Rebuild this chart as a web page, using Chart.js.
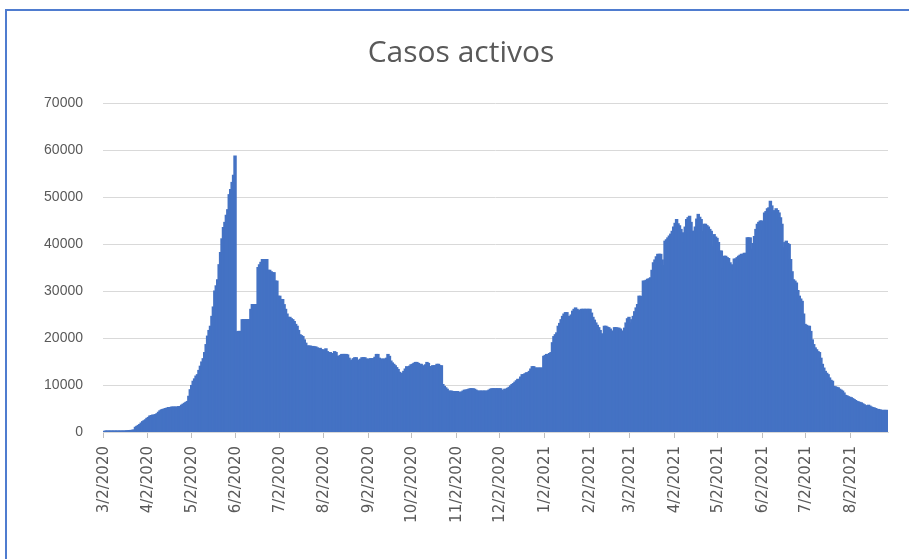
<!DOCTYPE html>
<html lang="es">
<head>
<meta charset="utf-8">
<title>Casos activos</title>
<script src="https://cdn.jsdelivr.net/npm/chart.js@4.4.1/dist/chart.umd.min.js"></script>
<style>
  html, body { margin: 0; padding: 0; background: #fff; }
  #wrap { position: relative; width: 909px; height: 559px; overflow: hidden; background: #fff; }
  #marco { position: absolute; left: 5px; top: 9px; width: 1000px; height: 1000px;
           border-top: 2px solid #4f7ccf; border-left: 2px solid #4f7ccf; pointer-events: none; }
</style>
</head>
<body>
<div id="wrap">
  <canvas id="activosChart"></canvas>
  <div id="marco"></div>
</div>
<script>
// primer día de la serie (3/2/2020), una barra por día
const inicio = [2020, 2, 2];

// casos activos diarios, una línea por mes (del día 2 al día 1 del mes siguiente)
const casosActivos = [
  0, 1, 1, 3, 5, 7, 10, 13, 17, 23, 33, 43, 61, 74, 95, 120, 150, 180, 210, 240, 280, 330, 900, 1100, 1300, 1500, 1800, 2100, 2300, 2500, 2800,
  3000, 3300, 3400, 3500, 3500, 3600, 3800, 4100, 4400, 4600, 4700, 4800, 4900, 5000, 5100, 5100, 5200, 5200, 5200, 5200, 5200, 5300, 5300, 5600, 5800, 6000, 6200, 6400, 7500, 8900,
  9800, 10700, 11200, 11800, 12100, 13000, 13900, 14800, 15500, 16800, 18500, 20300, 21500, 22400, 24500, 26500, 29900, 31000, 32300, 35500, 38100, 41000, 43400, 44500, 46000, 47200, 50400, 51500, 53000, 54500, 58600,
  21100, 21300, 21300, 21300, 23800, 23800, 23800, 23800, 23800, 23800, 26000, 27000, 27000, 27000, 27000, 34900, 35500, 36000, 36600, 36600, 36600, 36600, 34300, 34300, 34000, 33800, 33800, 32000, 32000, 28800,
  28800, 28100, 28100, 27000, 26000, 25000, 24300, 24300, 24000, 23800, 23400, 22800, 22400, 21500, 20600, 20400, 20200, 19500, 18800, 18200, 18200, 18200, 18100, 18100, 18000, 18000, 17800, 17600, 17700, 17400, 17400,
  17200, 17600, 17000, 16800, 16800, 16600, 16500, 17000, 16800, 16000, 16000, 16200, 16400, 16400, 16400, 16400, 16300, 15600, 15000, 15200, 15500, 15700, 15700, 15000, 15200, 15400, 15700, 15700, 15700, 15400, 15400,
  15400, 15500, 15500, 15500, 15800, 16400, 16400, 15600, 15400, 15400, 15400, 15400, 15600, 16400, 16000, 15000, 14600, 14300, 14000, 13600, 13200, 12600, 12100, 12400, 12800, 13300, 13800, 13600, 13900, 14200,
  14300, 14500, 14700, 14700, 14500, 14300, 14300, 14000, 13800, 14200, 14700, 14500, 13800, 13800, 14000, 14000, 14000, 14300, 14300, 14000, 14000, 10000, 9600, 9300, 9000, 8600, 8600, 8600, 8500, 8500, 8500,
  8500, 8400, 8300, 8400, 8600, 8800, 8800, 8900, 9000, 9100, 9100, 9100, 9000, 8800, 8600, 8600, 8600, 8600, 8600, 8600, 8600, 8600, 8800, 9000, 9100, 9100, 9100, 9100, 9100, 9100,
  9100, 8800, 8600, 9000, 9000, 9200, 9400, 9700, 10000, 10200, 10500, 10800, 11100, 11100, 11600, 12100, 12100, 12300, 12500, 12500, 12800, 13300, 13800, 13800, 13500, 13500, 13500, 13500, 13500, 13500, 16000,
  16200, 16400, 16400, 16600, 16800, 18900, 20200, 20600, 21000, 22400, 23000, 23800, 24500, 25000, 25300, 25300, 24500, 23800, 24800, 25600, 26000, 26300, 26000, 25600, 25800, 26000, 26000, 26000, 26000, 26000, 26000,
  26000, 25200, 24300, 23700, 23100, 22600, 22100, 21500, 20800, 20200, 22400, 22400, 22200, 22100, 21800, 21400, 21000, 22100, 22100, 22000, 22000, 21800, 21400, 21000, 22000, 23100, 24000, 24300,
  23100, 23800, 24500, 25500, 26300, 27000, 28800, 28800, 28100, 32000, 32000, 32200, 32400, 32500, 32700, 34300, 35900, 36500, 37200, 37700, 37700, 37700, 36500, 35300, 40500, 40800, 41200, 41600, 42000, 42600, 43500,
  44300, 45100, 44200, 43800, 43000, 42300, 40200, 43500, 45100, 45500, 45800, 44500, 42600, 42600, 43500, 45200, 46200, 45600, 45100, 42600, 44100, 44100, 43800, 43500, 43000, 42600, 39400, 41900, 41400, 41100,
  40200, 38400, 38400, 34500, 37300, 37300, 37000, 36800, 35900, 35500, 34100, 36700, 36700, 37000, 37300, 37500, 37700, 37700, 37900, 37900, 41200, 41200, 41200, 38800, 40000, 41500, 43000, 44100, 44500, 44800, 44800,
  42800, 46500, 46800, 47400, 47600, 49000, 48000, 46700, 47000, 47400, 47000, 46500, 45500, 44100, 39100, 40200, 40500, 40000, 39800, 36600, 34000, 32300, 32000, 31600, 30000, 28800, 28200, 27700, 25000, 22800,
  22600, 22400, 22400, 21300, 19500, 18500, 17800, 17400, 17000, 16800, 15600, 14300, 13500, 12800, 12400, 12100, 11400, 10900, 10700, 9600, 9500, 9400, 9300, 9000, 8800, 8600, 8200, 7700, 7600, 7400, 7300,
  7200, 7000, 6800, 6600, 6400, 6300, 6200, 6100, 5900, 5700, 5400, 5500, 5600, 5400, 5200, 5100, 5000, 4900, 4700, 4700, 4600, 4500, 4500, 4500, 4500, 4500
];

// etiquetas visibles del eje x
const etiquetasMes = ['3/2/2020', '4/2/2020', '5/2/2020', '6/2/2020', '7/2/2020', '8/2/2020', '9/2/2020',
  '10/2/2020', '11/2/2020', '12/2/2020', '1/2/2021', '2/2/2021', '3/2/2021', '4/2/2021', '5/2/2021',
  '6/2/2021', '7/2/2021', '8/2/2021'];

const ticksY = [0, 10000, 20000, 30000, 40000, 50000, 60000, 70000];

document.addEventListener("DOMContentLoaded", function () {
  // fechas m/d/aaaa para cada barra
  const fechas = casosActivos.map(function (v, i) {
    const d = new Date(Date.UTC(inicio[0], inicio[1], inicio[2] + i));
    return (d.getUTCMonth() + 1) + '/' + d.getUTCDate() + '/' + d.getUTCFullYear();
  });

  const gris = '#595959';
  const ctx = document.getElementById('activosChart').getContext('2d');
  const chart = new Chart(ctx, {
    type: 'bar',
    data: {
      labels: fechas,
      datasets: [{
        label: 'Casos activos',
        data: casosActivos,
        backgroundColor: '#4472c4',
        borderWidth: 0,
        inflateAmount: 1,
        barPercentage: 1,
        categoryPercentage: 1
      }]
    },
    options: {
      responsive: true,
      maintainAspectRatio: false,
      animation: false,
      layout: {
        padding: { left: 34, right: 21, top: 0, bottom: 0 }
      },
      scales: {
        x: {
          offset: true,
          grid: {
            offset: true,
            drawOnChartArea: false,
            drawTicks: true,
            tickLength: 6,
            color: function (c) { return c.tick && c.tick.label ? '#bfbfbf' : 'rgba(0,0,0,0)'; }
          },
          border: { display: true, color: '#d9d9d9', width: 1 },
          ticks: {
            autoSkip: false,
            minRotation: 90,
            maxRotation: 90,
            padding: 8,
            color: gris,
            font: { family: 'DejaVu Sans', size: 15 },
            callback: function (value) {
              const l = this.getLabelForValue(value);
              return etiquetasMes.includes(l) ? l : '';
            }
          },
          afterFit: function (s) {
            s.height = 127;
            s.paddingLeft = 0;
            s.paddingRight = 0;
          }
        },
        y: {
          min: 0,
          max: 70000,
          afterBuildTicks: function (s) { s.ticks = ticksY.map(function (v) { return { value: v }; }); },
          grid: { color: '#d9d9d9', drawTicks: false },
          border: { display: false },
          ticks: {
            padding: 20,
            color: gris,
            font: { family: "'Liberation Sans'", size: 14 },
            callback: function (v) { return String(v); }
          },
          afterFit: function (s) { s.width = 69; }
        }
      },
      plugins: {
        legend: { display: false },
        tooltip: { enabled: false },
        title: {
          display: true,
          text: 'Casos activos',
          color: gris,
          font: { family: 'Open Sans', size: 30, weight: 'normal' },
          padding: { top: 35, bottom: 32 }
        }
      }
    }
  });
});
</script>
</body>
</html>
